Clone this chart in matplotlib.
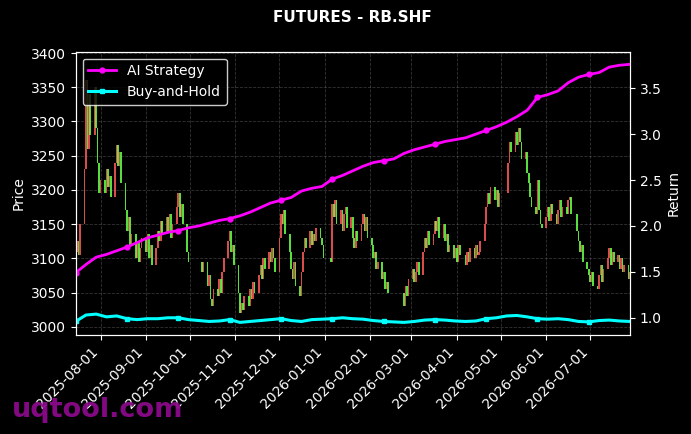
import numpy as np
import pandas as pd
import matplotlib
matplotlib.use("Agg")
import matplotlib.pyplot as plt
import matplotlib.dates as mdates

# --- data ---
# daily closes of RB.SHF, one list per month
close_2025_07 = [3110, 3125, 3105, 3150, 3230, 3360, 3260, 3340, 3280, 3350, 3290, 3240, 3195]
close_2025_08 = [3215, 3195, 3230, 3205, 3220, 3190, 3240, 3265, 3235, 3255, 3210,
                 3170, 3140, 3160, 3120, 3135, 3100, 3125, 3095, 3115, 3130]
close_2025_09 = [3110, 3135, 3100, 3120, 3090, 3115, 3140, 3125, 3155, 3135, 3160,
                 3140, 3165, 3130, 3150, 3175, 3195, 3160, 3180, 3150, 3110, 3095]
close_2025_10 = [3080, 3095, 3060, 3075, 3040, 3030, 3055, 3045, 3070, 3050, 3080,
                 3100, 3125, 3140, 3110, 3120, 3090]
close_2025_11 = [3050, 3020, 3035, 3025, 3045, 3030, 3055, 3040, 3065, 3050, 3075,
                 3090, 3070, 3100, 3085, 3110, 3095, 3115, 3100, 3080]
close_2025_12 = [3130, 3165, 3150, 3170, 3135, 3110, 3085, 3070, 3095, 3060, 3045,
                 3080, 3110, 3130, 3115, 3140, 3120, 3135, 3125, 3145, 3130, 3120, 3100]
close_2026_01 = [3095, 3180, 3160, 3185, 3150, 3170, 3140, 3165, 3175, 3145, 3160,
                 3130, 3115, 3140, 3125, 3150, 3165, 3140, 3160, 3130]
close_2026_02 = [3120, 3100, 3110, 3085, 3095, 3070, 3080, 3055, 3065, 3050, 3030,
                 3060, 3045, 3070]
close_2026_03 = [3085, 3065, 3080, 3095, 3075, 3110, 3130, 3115, 3140, 3120, 3135,
                 3155, 3140, 3160, 3130, 3150, 3125, 3135, 3110, 3120, 3100, 3115]
close_2026_04 = [3095, 3120, 3105, 3090, 3110, 3095, 3115, 3100, 3120, 3105, 3110,
                 3125, 3150, 3175, 3195, 3180, 3205, 3185, 3200, 3175, 3195]
close_2026_05 = [3240, 3270, 3255, 3285, 3265, 3290, 3270, 3245, 3255, 3225, 3210,
                 3190, 3175, 3165, 3215, 3170, 3150, 3145]
close_2026_06 = [3160, 3175, 3155, 3180, 3165, 3150, 3170, 3185, 3160, 3175, 3165,
                 3185, 3190, 3165, 3140, 3125, 3110, 3120, 3095, 3085, 3075]
close_2026_07 = [3065, 3080, 3060, 3055, 3075, 3090, 3065, 3085, 3100, 3115, 3090,
                 3110, 3095, 3105, 3085, 3100, 3080, 3090, 3070, 3080]

exchange_holidays = ["2025-10-01", "2025-10-02", "2025-10-03", "2025-10-06", "2025-10-07",
                     "2025-10-08", "2026-01-01", "2026-01-02", "2026-02-16", "2026-02-17",
                     "2026-02-18", "2026-02-19", "2026-02-20", "2026-02-23", "2026-04-06",
                     "2026-05-01", "2026-05-04", "2026-05-05", "2026-06-19"]

# weekly samples of the two return curves (Tuesdays, 2025-07-15 .. 2026-07-28)
ai_strategy = [1.49, 1.58, 1.66, 1.69, 1.73, 1.77, 1.82, 1.87, 1.90, 1.93,
               1.95, 1.98, 2.00, 2.03, 2.06, 2.08, 2.11, 2.15, 2.20, 2.25,
               2.28, 2.31, 2.38, 2.41, 2.43, 2.51, 2.55, 2.60, 2.65, 2.69,
               2.71, 2.73, 2.79, 2.83, 2.86, 2.89, 2.92, 2.94, 2.96, 3.00,
               3.04, 3.08, 3.13, 3.19, 3.26, 3.40, 3.43, 3.47, 3.56, 3.62,
               3.65, 3.67, 3.73, 3.75, 3.76]
buy_and_hold = [0.960, 1.030, 1.040, 1.010, 1.020, 0.990, 0.980, 0.990, 0.990, 1.000,
                1.000, 0.980, 0.970, 0.960, 0.965, 0.980, 0.950, 0.960, 0.970, 0.980,
                0.990, 0.970, 0.960, 0.980, 0.985, 0.990, 1.000, 0.990, 0.985, 0.970,
                0.960, 0.955, 0.950, 0.960, 0.975, 0.980, 0.975, 0.965, 0.960, 0.965,
                0.990, 1.000, 1.020, 1.025, 1.010, 0.990, 0.985, 0.990, 0.980, 0.960,
                0.955, 0.970, 0.975, 0.965, 0.960]

closes = np.array(close_2025_07 + close_2025_08 + close_2025_09 + close_2025_10 +
                  close_2025_11 + close_2025_12 + close_2026_01 + close_2026_02 +
                  close_2026_03 + close_2026_04 + close_2026_05 + close_2026_06 +
                  close_2026_07, dtype=float)
days = pd.bdate_range("2025-07-15", "2026-07-28")
days = days[~days.isin(pd.to_datetime(exchange_holidays))]
opens = np.concatenate([[closes[0] - 15], closes[:-1]])
weeks = pd.date_range("2025-07-15", periods=len(ai_strategy), freq="7D")

plt.style.use("dark_background")
fig = plt.figure(figsize=(6.91, 4.34), dpi=100)
ax = fig.add_axes([0.1095, 0.228, 0.802, 0.653])
ax.set_facecolor("black")

# red = up, green = down (Chinese convention)
up = closes >= opens
bottoms = np.minimum(opens, closes)
heights = np.abs(closes - opens)
xd = mdates.date2num(days)
ax.bar(xd[up], heights[up], bottom=bottoms[up], width=1.15, color="#f25555", alpha=0.9, linewidth=0)
ax.bar(xd[~up], heights[~up], bottom=bottoms[~up], width=1.15, color="#62f545", alpha=0.9, linewidth=0)

ax.set_ylim(2988, 3402)
ax.set_xlim(xd[0], xd[-1])
ax.set_ylabel("Price")
ax.grid(True, linestyle="--", color="gray", alpha=0.4, linewidth=0.6)
ax.set_axisbelow(True)
ax.xaxis.set_major_locator(mdates.MonthLocator())
ax.xaxis.set_major_formatter(mdates.DateFormatter("%Y-%m-%d"))
plt.setp(ax.get_xticklabels(), rotation=45, ha="right")

ax2 = ax.twinx()
ax2.plot(weeks, ai_strategy, color="#ff00ff", lw=2, marker="o", ms=3.5, markevery=(0, 5), label="AI Strategy")
ax2.plot(weeks, buy_and_hold, color="#00ffff", lw=2.2, marker="s", ms=3.5, markevery=(0, 5), label="Buy-and-Hold")
ax2.set_ylim(0.812, 3.898)
ax2.set_ylabel("Return")
ax2.set_xlim(xd[0], xd[-1])
ax2.legend(loc="upper left", fontsize=10, facecolor="black", edgecolor="white", framealpha=0.8)

ax.set_title("FUTURES - RB.SHF", fontsize=11, fontweight="bold", pad=21)

fig.text(0.017, 0.04, "uqtool.com", fontsize=19.5, fontweight="bold", color="#8b0a8b",
         alpha=0.95, va="baseline", zorder=10)

fig.savefig("out.png", dpi=100, facecolor="black")
